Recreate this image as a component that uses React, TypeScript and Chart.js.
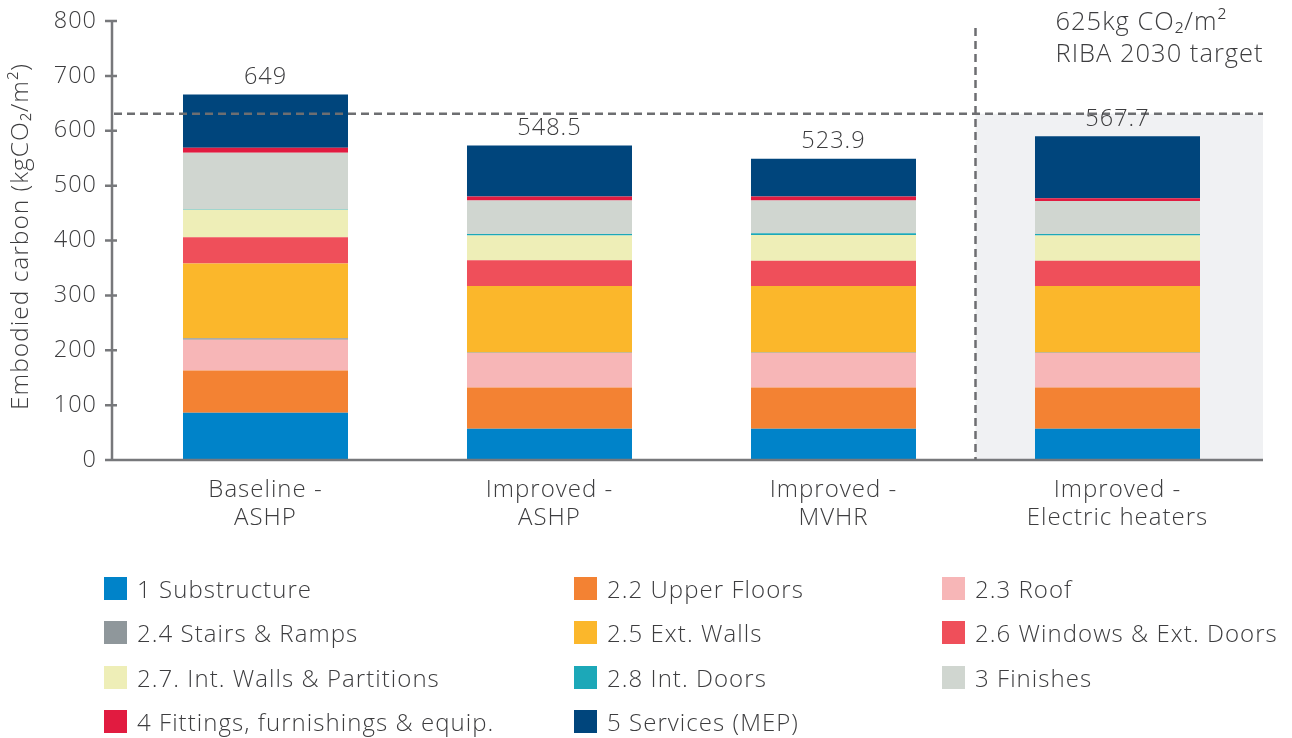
import React, { useEffect, useRef } from "react";
import { Chart, registerables } from "chart.js";

Chart.register(...registerables);

// ---------- data ----------
const categories: string[][] = [
  ["Baseline -", "ASHP"],
  ["Improved -", "ASHP"],
  ["Improved -", "MVHR"],
  ["Improved -", "Electric heaters"],
];

const seriesNames = [
  "1 Substructure",
  "2.2 Upper Floors",
  "2.3 Roof",
  "2.4 Stairs & Ramps",
  "2.5 Ext. Walls",
  "2.6 Windows & Ext. Doors",
  "2.7. Int. Walls & Partitions",
  "2.8 Int. Doors",
  "3 Finishes",
  "4 Fittings, furnishings & equip.",
  "5 Services (MEP)",
];

const seriesColors = [
  "#0083c9",
  "#f38233",
  "#f7b6b7",
  "#8f979b",
  "#fbb72b",
  "#ef4f5a",
  "#eeeeb7",
  "#1ca8b8",
  "#d0d6d0",
  "#e11b40",
  "#00457c",
];

const substructure = [86, 57, 57, 57];
const upperFloors = [77, 75, 75, 75];
const roof = [56, 63, 63, 63];
const stairsRamps = [3, 1, 1, 1];
const extWalls = [136, 121, 121, 121];
const windowsExtDoors = [48, 47, 46, 46];
const intWalls = [50, 45, 47, 46];
const intDoors = [1, 3, 3, 3];
const finishes = [103, 61, 60, 60];
const fittings = [9, 7, 7, 5];
const services = [97, 93, 69, 113];

const seriesValues = [
  substructure,
  upperFloors,
  roof,
  stairsRamps,
  extWalls,
  windowsExtDoors,
  intWalls,
  intDoors,
  finishes,
  fittings,
  services,
];

const totalLabels = ["649", "548.5", "523.9", "567.7"];
const yTickValues = [0, 100, 200, 300, 400, 500, 600, 700, 800];
const targetValue = 631;
const targetText = ["625kg CO₂/m²", "RIBA 2030 target"];
const highlightedIndex = 3;
const yAxisTitle = "Embodied carbon (kgCO₂/m²)";

// ---------- styles ----------
const FONT = "'Open Sans', 'DejaVu Sans', sans-serif";
const TEXT = "#3d3d3f";
const AXIS = "#77787b";
const DASH = "#6d6e71";
const SHADE = "#f0f1f3";

const W = 1292;
const H = 738;

const overlayPlugin = {
  id: "overlay",
  beforeDraw(chart: any) {
    (chart.ctx as any).letterSpacing = "1px";
  },
  beforeDatasetsDraw(chart: any) {
    const { ctx, chartArea, scales } = chart;
    const x = scales.x;
    const y = scales.y;
    const splitX = (x.getPixelForValue(highlightedIndex - 1) + x.getPixelForValue(highlightedIndex)) / 2;
    const axisRight = chartArea.right + 3.5;
    ctx.save();
    ctx.fillStyle = SHADE;
    const ty = y.getPixelForValue(targetValue);
    ctx.fillRect(splitX, ty, axisRight - splitX, y.getPixelForValue(0) - ty);
    ctx.restore();
  },
  afterDatasetsDraw(chart: any) {
    const { ctx, chartArea, scales } = chart;
    const x = scales.x;
    const y = scales.y;
    const axisX = chartArea.left - 11.5;
    const axisRight = chartArea.right + 3.5;
    const y0 = y.getPixelForValue(0);
    const yTop = y.getPixelForValue(800);
    ctx.save();

    // axes
    ctx.strokeStyle = AXIS;
    ctx.lineWidth = 2.5;
    ctx.beginPath();
    ctx.moveTo(axisX, yTop);
    ctx.lineTo(axisX, y0);
    ctx.moveTo(axisX - 7, y0);
    ctx.lineTo(axisRight, y0);
    yTickValues.forEach((v) => {
      const py = y.getPixelForValue(v);
      ctx.moveTo(axisX - 7, py);
      ctx.lineTo(axisX + (v === 0 ? 0 : 5), py);
    });
    ctx.stroke();

    // target dashed line
    const splitX = (x.getPixelForValue(highlightedIndex - 1) + x.getPixelForValue(highlightedIndex)) / 2;
    const ty = y.getPixelForValue(targetValue);
    ctx.strokeStyle = DASH;
    ctx.lineWidth = 2.5;
    ctx.setLineDash([8, 5]);
    ctx.beginPath();
    ctx.moveTo(axisX + 2, ty);
    ctx.lineTo(axisRight, ty);
    ctx.stroke();
    ctx.beginPath();
    ctx.moveTo(splitX, chartArea.top + 7);
    ctx.lineTo(splitX, y0);
    ctx.stroke();
    ctx.setLineDash([]);

    // target text
    ctx.fillStyle = TEXT;
    ctx.font = `300 25.5px ${FONT}`;
    ctx.textAlign = "left";
    ctx.textBaseline = "middle";
    ctx.fillText(targetText[0], splitX + 80, 23);
    ctx.fillText(targetText[1], splitX + 80, 55);

    // total labels
    const lastMeta = chart.getDatasetMeta(seriesValues.length - 1);
    ctx.textAlign = "center";
    ctx.font = `300 23.5px ${FONT}`;
    lastMeta.data.forEach((bar: any, i: number) => {
      ctx.fillText(totalLabels[i], bar.x, bar.y - 17);
    });

    // y-axis title
    ctx.translate(21, 410);
    ctx.rotate(-Math.PI / 2);
    ctx.textAlign = "left";
    ctx.font = `300 24.5px ${FONT}`;
    ctx.fillText(yAxisTitle, 0, 0);
    ctx.restore();
  },
};

export default function App() {
  const canvasRef = useRef<HTMLCanvasElement | null>(null);

  useEffect(() => {
    document.body.style.margin = "0";
    const canvas = canvasRef.current;
    if (!canvas) return;
    const chart = new Chart(canvas, {
      type: "bar",
      data: {
        labels: categories,
        datasets: seriesNames.map((name, i) => ({
          label: name,
          data: seriesValues[i],
          backgroundColor: seriesColors[i],
          borderWidth: 0,
          barPercentage: 0.581,
          categoryPercentage: 1,
        })),
      },
      options: {
        responsive: false,
        animation: false,
        devicePixelRatio: 1,
        layout: { padding: { top: 21, right: 32.5, left: 0, bottom: 0 } },
        plugins: {
          legend: { display: false },
          tooltip: { enabled: false },
        },
        scales: {
          x: {
            stacked: true,
            grid: { display: false, drawTicks: true, tickLength: 16 },
            border: { display: false },
            ticks: {
              color: TEXT,
              padding: 0,
              font: { family: FONT, size: 24, weight: "300" as any, lineHeight: 1.17 },
              maxRotation: 0,
              autoSkip: false,
            },
            afterFit: (scale: any) => {
              scale.height = 278;
            },
          },
          y: {
            stacked: true,
            min: 0,
            max: 800,
            grid: { display: false, drawTicks: true, tickLength: 26.5 },
            border: { display: false },
            ticks: {
              stepSize: 100,
              color: TEXT,
              padding: 0,
              font: { family: FONT, size: 23.5, weight: "300" as any },
            },
            afterFit: (scale: any) => {
              scale.width = 123.5;
            },
          },
        },
      },
      plugins: [overlayPlugin],
    });
    return () => chart.destroy();
  }, []);

  const colLeft = [104, 574, 942];
  const rowCenter = 588;
  const rowStep = 44.5;

  return (
    <div style={{ position: "relative", width: W, height: H, overflow: "hidden", background: "#fff" }}>
      <canvas ref={canvasRef} width={W} height={H} style={{ position: "absolute", left: 0, top: 0 }} />
      {seriesNames.map((name, i) => {
        const col = i % 3;
        const row = Math.floor(i / 3);
        const cy = rowCenter + row * rowStep;
        return (
          <div
            key={name}
            style={{
              position: "absolute",
              left: colLeft[col],
              top: cy - 12,
              height: 24,
              display: "flex",
              alignItems: "center",
              whiteSpace: "nowrap",
              fontFamily: FONT,
              fontWeight: 300,
              fontSize: 24,
              letterSpacing: "1.05px",
              color: TEXT,
            }}
          >
            <span
              style={{
                display: "inline-block",
                width: 23,
                height: 23,
                background: seriesColors[i],
                marginRight: 10,
                flex: "none",
              }}
            />
            <span>{name}</span>
          </div>
        );
      })}
    </div>
  );
}
